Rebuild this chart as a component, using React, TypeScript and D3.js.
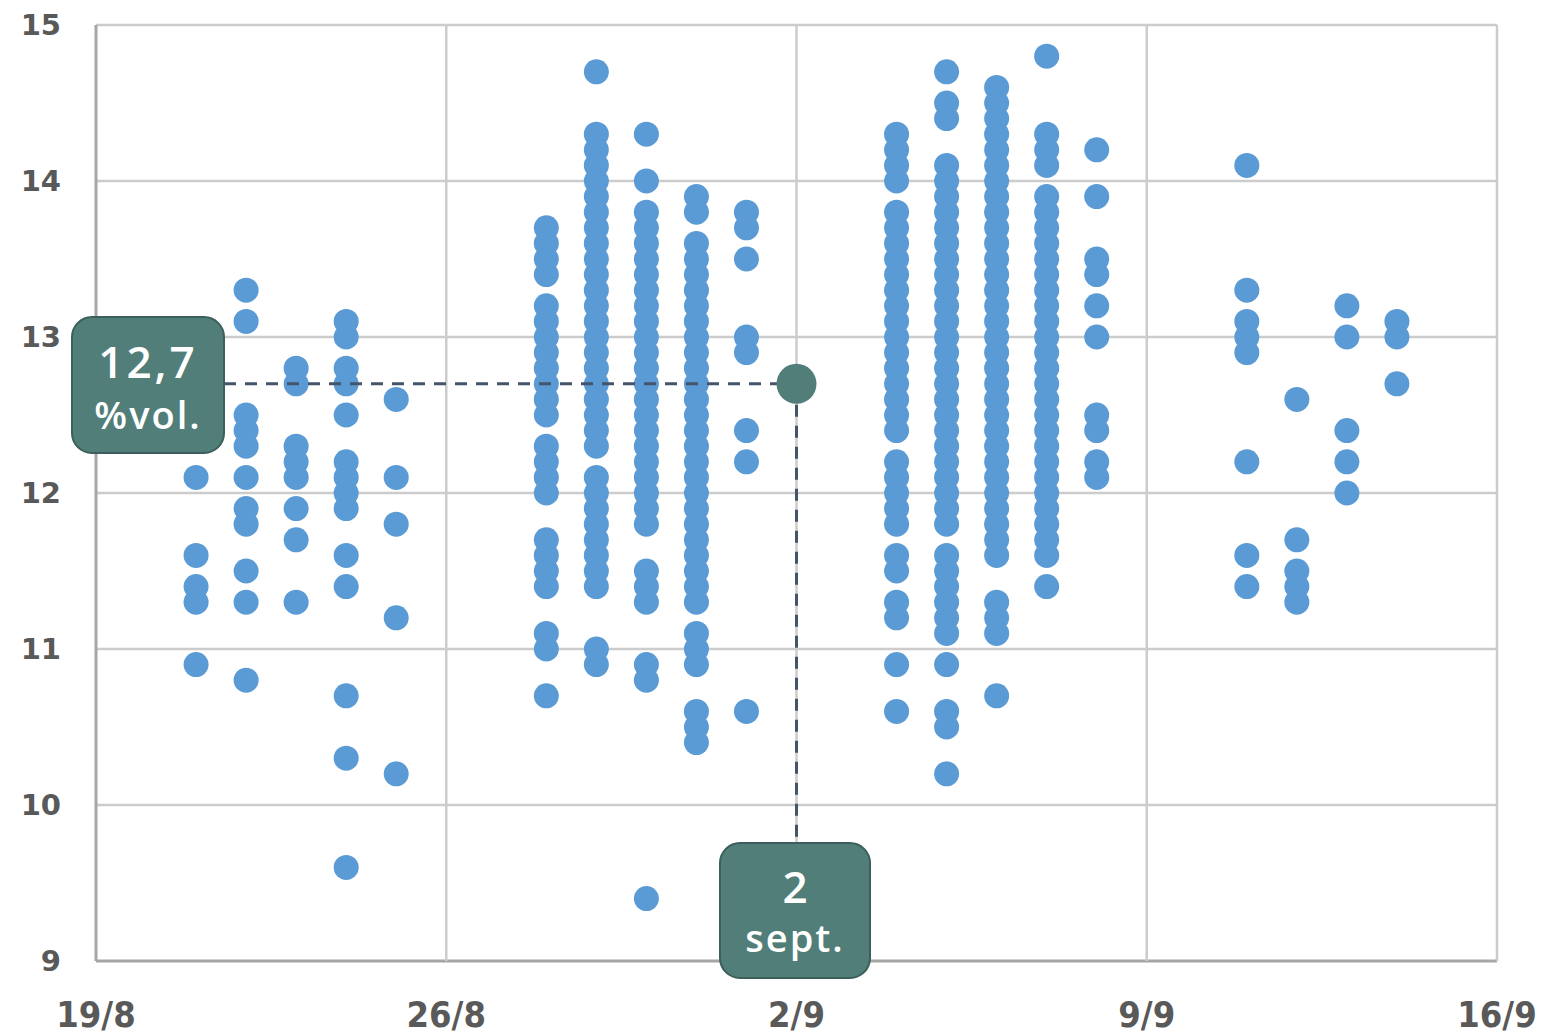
import React from "react";
import * as d3 from "d3";

// ---- data ----
const dayLabels = ["2019-08-19", "2019-08-26", "2019-09-02", "2019-09-09", "2019-09-16"];
const tickText = ["19/8", "26/8", "2/9", "9/9", "16/9"];
const yTicks = [9, 10, 11, 12, 13, 14, 15];

const d21_8 = [12.1, 11.6, 11.4, 11.3, 10.9];
const d22_8 = [13.3, 13.1, 12.5, 12.4, 12.3, 12.1, 11.9, 11.8, 11.5, 11.3, 10.8];
const d23_8 = [12.8, 12.7, 12.3, 12.2, 12.1, 11.9, 11.7, 11.3];
const d24_8 = [13.1, 13.0, 12.8, 12.7, 12.5, 12.2, 12.1, 12.0, 11.9, 11.6, 11.4, 10.7, 10.3, 9.6];
const d25_8 = [12.6, 12.1, 11.8, 11.2, 10.2];
const d28_8 = [13.7, 13.6, 13.5, 13.4, 13.2, 13.1, 13.0, 12.9, 12.8, 12.7, 12.6, 12.5, 12.3, 12.2, 12.1, 12.0, 11.7, 11.6, 11.5, 11.4, 11.1, 11.0, 10.7];
const d29_8 = [14.7, 14.3, 14.2, 14.1, 14.0, 13.9, 13.8, 13.7, 13.6, 13.5, 13.4, 13.3, 13.2, 13.1, 13.0, 12.9, 12.8, 12.7, 12.6, 12.5, 12.4, 12.3, 12.1, 12.0, 11.9, 11.8, 11.7, 11.6, 11.5, 11.4, 11.0, 10.9];
const d30_8 = [14.3, 14.0, 13.8, 13.7, 13.6, 13.5, 13.4, 13.3, 13.2, 13.1, 13.0, 12.9, 12.8, 12.7, 12.6, 12.5, 12.4, 12.3, 12.2, 12.1, 12.0, 11.9, 11.8, 11.5, 11.4, 11.3, 10.9, 10.8, 9.4];
const d31_8 = [13.9, 13.8, 13.6, 13.5, 13.4, 13.3, 13.2, 13.1, 13.0, 12.9, 12.8, 12.7, 12.6, 12.5, 12.4, 12.3, 12.2, 12.1, 12.0, 11.9, 11.8, 11.7, 11.6, 11.5, 11.4, 11.3, 11.1, 11.0, 10.9, 10.6, 10.5, 10.4];
const d1_9 = [13.8, 13.7, 13.5, 13.0, 12.9, 12.4, 12.2, 10.6];
const d4_9 = [14.3, 14.2, 14.1, 14.0, 13.8, 13.7, 13.6, 13.5, 13.4, 13.3, 13.2, 13.1, 13.0, 12.9, 12.8, 12.7, 12.6, 12.5, 12.4, 12.2, 12.1, 12.0, 11.9, 11.8, 11.6, 11.5, 11.3, 11.2, 10.9, 10.6];
const d5_9 = [14.7, 14.5, 14.4, 14.1, 14.0, 13.9, 13.8, 13.7, 13.6, 13.5, 13.4, 13.3, 13.2, 13.1, 13.0, 12.9, 12.8, 12.7, 12.6, 12.5, 12.4, 12.3, 12.2, 12.1, 12.0, 11.9, 11.8, 11.6, 11.5, 11.4, 11.3, 11.2, 11.1, 10.9, 10.6, 10.5, 10.2];
const d6_9 = [14.6, 14.5, 14.4, 14.3, 14.2, 14.1, 14.0, 13.9, 13.8, 13.7, 13.6, 13.5, 13.4, 13.3, 13.2, 13.1, 13.0, 12.9, 12.8, 12.7, 12.6, 12.5, 12.4, 12.3, 12.2, 12.1, 12.0, 11.9, 11.8, 11.7, 11.6, 11.3, 11.2, 11.1, 10.7];
const d7_9 = [14.8, 14.3, 14.2, 14.1, 13.9, 13.8, 13.7, 13.6, 13.5, 13.4, 13.3, 13.2, 13.1, 13.0, 12.9, 12.8, 12.7, 12.6, 12.5, 12.4, 12.3, 12.2, 12.1, 12.0, 11.9, 11.8, 11.7, 11.6, 11.4];
const d8_9 = [14.2, 13.9, 13.5, 13.4, 13.2, 13.0, 12.5, 12.4, 12.2, 12.1];
const d11_9 = [14.1, 13.3, 13.1, 13.0, 12.9, 12.2, 11.6, 11.4];
const d12_9 = [12.6, 11.7, 11.5, 11.4, 11.3];
const d13_9 = [13.2, 13.0, 12.4, 12.2, 12.0];
const d14_9 = [13.1, 13.0, 12.7];

const columnDates = [
  "2019-08-21", "2019-08-22", "2019-08-23", "2019-08-24", "2019-08-25",
  "2019-08-28", "2019-08-29", "2019-08-30", "2019-08-31", "2019-09-01",
  "2019-09-04", "2019-09-05", "2019-09-06", "2019-09-07", "2019-09-08",
  "2019-09-11", "2019-09-12", "2019-09-13", "2019-09-14",
];
const columnValues = [
  d21_8, d22_8, d23_8, d24_8, d25_8,
  d28_8, d29_8, d30_8, d31_8, d1_9,
  d4_9, d5_9, d6_9, d7_9, d8_9,
  d11_9, d12_9, d13_9, d14_9,
];

const highlightDate = "2019-09-02";
const highlightValue = 12.7;
const highlightValueText = "12,7";
const highlightUnitText = "%vol.";
const highlightDayText = "2";
const highlightMonthText = "sept.";

// ---- layout ----
const W = 1545;
const H = 1035;
const left = 96;
const right = 1497;
const top = 25;
const bottom = 961;

const parse = d3.timeParse("%Y-%m-%d");

export default function App() {
  const x = d3
    .scaleTime()
    .domain([parse(dayLabels[0])!, parse(dayLabels[dayLabels.length - 1])!])
    .range([left, right]);
  const y = d3.scaleLinear().domain([9, 15]).range([bottom, top]);

  const points: { cx: number; cy: number; key: string }[] = [];
  columnDates.forEach((ds, i) => {
    const d = parse(ds)!;
    columnValues[i].forEach((v, j) => {
      points.push({ cx: x(d), cy: y(v), key: `${ds}-${j}` });
    });
  });

  const hx = x(parse(highlightDate)!);
  const hy = y(highlightValue);

  const gridColor = "#cccccc";
  const axisColor = "#a6a6a6";
  const teal = "#517e79";
  const tealStroke = "#3b5f5b";
  const dashColor = "#44546a";
  const labelColor = "#595959";

  const box1 = { x: 72, y: 317, w: 152, h: 136 };
  const box2 = { x: 720, y: 843, w: 150, h: 135 };

  return (
    <svg width={W} height={H} style={{ display: "block", position: "absolute", left: 0, top: 0 }}>
      <rect x={0} y={0} width={W} height={H} fill="#ffffff" />
      {yTicks.map((t) => (
        <line
          key={"hy" + t}
          x1={left}
          x2={right}
          y1={y(t)}
          y2={y(t)}
          stroke={t === 9 ? axisColor : gridColor}
          strokeWidth={t === 9 ? 3 : 2.5}
        />
      ))}
      {dayLabels.map((ds, i) => (
        <line
          key={"vx" + ds}
          x1={x(parse(ds)!)}
          x2={x(parse(ds)!)}
          y1={top}
          y2={bottom}
          stroke={i === 0 ? axisColor : gridColor}
          strokeWidth={i === 0 ? 3 : 2.5}
        />
      ))}
      {yTicks.map((t) => (
        <text
          key={"yl" + t}
          x={61}
          y={y(t)}
          dy="0.36em"
          textAnchor="end"
          fontFamily="DejaVu Sans, Verdana, sans-serif"
          fontWeight="bold"
          fontSize={29}
          fill={labelColor}
        >
          {t}
        </text>
      ))}
      {dayLabels.map((ds, i) => (
        <text
          key={"xl" + ds}
          x={x(parse(ds)!)}
          y={1027}
          textAnchor="middle"
          fontFamily="'Liberation Sans Narrow', 'DejaVu Sans Condensed', 'Roboto Condensed', sans-serif"
          fontStretch="condensed"
          fontWeight="bold"
          fontSize={36}
          fill={labelColor}
        >
          {tickText[i]}
        </text>
      ))}
      {points.map((p) => (
        <circle key={p.key} cx={p.cx} cy={p.cy} r={12.5} fill="#5b9bd5" />
      ))}
      <line x1={box1.x + box1.w} x2={hx} y1={hy} y2={hy} stroke={dashColor} strokeWidth={3} strokeDasharray="12,9" />
      <line x1={hx} x2={hx} y1={hy} y2={box2.y} stroke={dashColor} strokeWidth={3} strokeDasharray="12,9" />
      <circle cx={hx} cy={hy} r={20} fill={teal} />
      <rect x={box1.x} y={box1.y} width={box1.w} height={box1.h} rx={20} ry={20} fill={teal} stroke={tealStroke} strokeWidth={2} />
      <text x={box1.x + box1.w / 2} y={378} textAnchor="middle" fontFamily="'Open Sans', 'Noto Sans', sans-serif" fontWeight={600} fontSize={44} letterSpacing={3} fill="#ffffff">
        {highlightValueText}
      </text>
      <text x={box1.x + box1.w / 2} y={429} textAnchor="middle" fontFamily="'Open Sans', 'Noto Sans', sans-serif" fontWeight={600} fontSize={38} letterSpacing={2} fill="#ffffff">
        {highlightUnitText}
      </text>
      <rect x={box2.x} y={box2.y} width={box2.w} height={box2.h} rx={20} ry={20} fill={teal} stroke={tealStroke} strokeWidth={2} />
      <text x={box2.x + box2.w / 2} y={903} textAnchor="middle" fontFamily="'Open Sans', 'Noto Sans', sans-serif" fontWeight={600} fontSize={44} fill="#ffffff">
        {highlightDayText}
      </text>
      <text x={box2.x + box2.w / 2} y={952} textAnchor="middle" fontFamily="'Open Sans', 'Noto Sans', sans-serif" fontWeight={600} fontSize={38} letterSpacing={2} fill="#ffffff">
        {highlightMonthText}
      </text>
    </svg>
  );
}
